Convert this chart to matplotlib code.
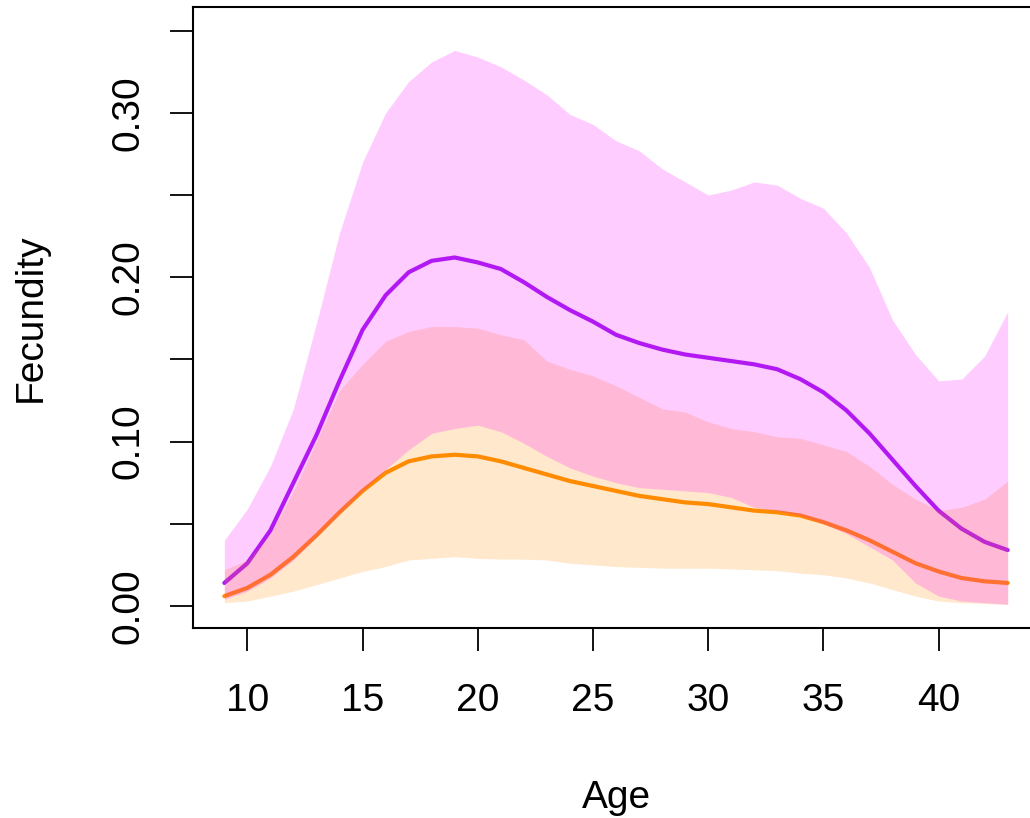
import numpy as np
import matplotlib
matplotlib.use("Agg")
import matplotlib.pyplot as plt

plt.rcParams['font.family'] = ['Liberation Sans', 'DejaVu Sans']

ages = np.arange(9, 44)

# purple series: mean and interval
mean_1 = [0.014, 0.026, 0.046, 0.075, 0.104, 0.137, 0.168, 0.189, 0.203, 0.210,
          0.212, 0.209, 0.205, 0.197, 0.188, 0.180, 0.173, 0.165, 0.160, 0.156,
          0.153, 0.151, 0.149, 0.147, 0.144, 0.138, 0.130, 0.119, 0.105, 0.089,
          0.073, 0.058, 0.047, 0.039, 0.034]
upper_1 = [0.040, 0.059, 0.085, 0.120, 0.172, 0.227, 0.270, 0.300, 0.319, 0.331,
           0.338, 0.334, 0.328, 0.320, 0.311, 0.299, 0.293, 0.283, 0.277, 0.266,
           0.258, 0.250, 0.253, 0.258, 0.256, 0.248, 0.242, 0.227, 0.206, 0.174,
           0.153, 0.137, 0.138, 0.152, 0.179]
lower_1 = [0.004, 0.009, 0.017, 0.028, 0.042, 0.056, 0.070, 0.083, 0.095, 0.105,
           0.108, 0.110, 0.106, 0.099, 0.091, 0.084, 0.079, 0.075, 0.072, 0.071,
           0.070, 0.069, 0.066, 0.060, 0.058, 0.055, 0.050, 0.044, 0.036, 0.028,
           0.014, 0.006, 0.003, 0.002, 0.001]

# orange series: mean and interval
mean_2 = [0.006, 0.011, 0.019, 0.030, 0.043, 0.057, 0.070, 0.081, 0.088, 0.091,
          0.092, 0.091, 0.088, 0.084, 0.080, 0.076, 0.073, 0.070, 0.067, 0.065,
          0.063, 0.062, 0.060, 0.058, 0.057, 0.055, 0.051, 0.046, 0.040, 0.033,
          0.026, 0.021, 0.017, 0.015, 0.014]
upper_2 = [0.022, 0.028, 0.044, 0.070, 0.100, 0.131, 0.147, 0.161, 0.167, 0.170,
           0.170, 0.169, 0.165, 0.162, 0.149, 0.144, 0.140, 0.134, 0.127, 0.120,
           0.118, 0.112, 0.108, 0.106, 0.103, 0.102, 0.098, 0.094, 0.085, 0.074,
           0.065, 0.058, 0.060, 0.065, 0.076]
lower_2 = [0.002, 0.003, 0.006, 0.009, 0.013, 0.017, 0.021, 0.024, 0.028, 0.029,
           0.030, 0.029, 0.0285, 0.0285, 0.028, 0.026, 0.025, 0.024, 0.0235, 0.023,
           0.023, 0.023, 0.0225, 0.022, 0.0215, 0.020, 0.019, 0.017, 0.014, 0.010,
           0.006, 0.003, 0.002, 0.0015, 0.001]

yticks = [0.00, 0.05, 0.10, 0.15, 0.20, 0.25, 0.30, 0.35]
ytick_labels = ['0.00', '', '0.10', '', '0.20', '', '0.30', '']
xticks = [10, 15, 20, 25, 30, 35, 40]

fig = plt.figure(figsize=(10.30, 8.18), dpi=100)
ax = fig.add_axes([193 / 1030, 1 - 628 / 818, 846 / 1030, 621 / 818])

# lines underneath, the translucent bands on top (as in the original)
ax.plot(ages, mean_1, color='#A020F0', lw=3.0, zorder=1, solid_capstyle='round')
ax.plot(ages, mean_2, color='#FF8C00', lw=3.0, zorder=1, solid_capstyle='round')
ax.fill_between(ages, lower_2, upper_2, color='#FF8C00', alpha=0.2, lw=0, zorder=2)
ax.fill_between(ages, lower_1, upper_1, color='#FF00FF', alpha=0.2, lw=0, zorder=3)

ax.set_xlim(7.64, 44.36)
ax.set_ylim(-0.0134, 0.3644)
ax.set_xticks(xticks)
ax.set_xticklabels([str(t) for t in xticks])
ax.set_yticks(yticks)
ax.set_yticklabels(ytick_labels, rotation=90, va='center')

for s in ax.spines.values():
    s.set_linewidth(1.5)
ax.tick_params(axis='both', direction='out', length=16.5, width=1.3,
               labelsize=28, colors='black')
ax.tick_params(axis='x', pad=23)
ax.tick_params(axis='y', pad=17)

ax.set_xlabel('Age', fontsize=28)
ax.set_ylabel('Fecundity', fontsize=28)
ax.xaxis.set_label_coords(0.501, -0.245)
ax.yaxis.set_label_coords(-0.17, 0.5)

fig.savefig('out.png', dpi=100)
